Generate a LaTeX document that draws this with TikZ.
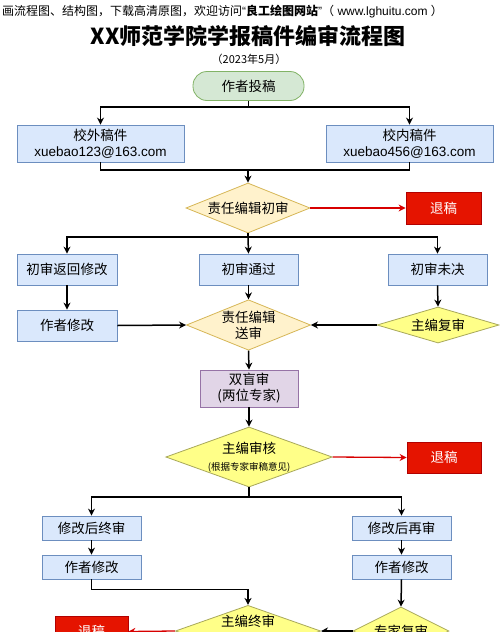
\documentclass[tikz,border=0pt]{standalone}
\usepackage{fontspec}
\setmainfont{Noto Sans CJK SC}
\newfontfamily\lat{Liberation Sans}
\usetikzlibrary{shapes.geometric,arrows.meta}
\definecolor{gfill}{HTML}{D5E8D4}\definecolor{gdraw}{HTML}{82B366}
\definecolor{bfill}{HTML}{DAE8FC}\definecolor{bdraw}{HTML}{6C8EBF}
\definecolor{yfill}{HTML}{FFF2CC}\definecolor{ydraw}{HTML}{D6B656}
\definecolor{ybfill}{HTML}{FFFF88}\definecolor{ybdraw}{HTML}{A8A85A}
\definecolor{pfill}{HTML}{E1D5E7}\definecolor{pdraw}{HTML}{9673A6}
\definecolor{rfill}{HTML}{E51400}\definecolor{rdraw}{HTML}{B20000}
\definecolor{rline}{HTML}{D80000}
\tikzset{
  base/.style={inner sep=0pt, align=center, font=\fontsize{13.5}{16}\selectfont, line width=0.8pt},
  greenbox/.style={base, rectangle, rounded corners=14pt, fill=gfill, draw=gdraw},
  bluebox/.style={base, rectangle, fill=bfill, draw=bdraw},
  purplebox/.style={base, rectangle, fill=pfill, draw=pdraw},
  redbox/.style={base, rectangle, fill=rfill, draw=rdraw, text=white},
  ldia/.style={base, diamond, fill=yfill, draw=ydraw},
  ydia/.style={base, diamond, fill=ybfill, draw=ybdraw},
  arr/.style={line width=1.5pt, -{Stealth[length=7pt,width=7pt]}},
  ln/.style={line width=1.5pt},
  rarr/.style={line width=1.3pt, draw=rline, -{Stealth[length=7pt,width=7pt]}},
}
\begin{document}
\begin{tikzpicture}[x=1pt,y=-1pt]
\useasboundingbox (0,0) rectangle (500,632);
\clip (0,0) rectangle (500,632);
\fill[white] (0,0) rectangle (500,632);

\node[anchor=west, inner sep=0pt, font=\fontsize{12}{14}\selectfont] (hdr) at (2,12)
  {画流程图、结构图，下载高清原图，欢迎访问{\lat “}\textbf{良工绘图网站}{\lat ”}（{\lat\ www.lghuitu.com\ }）};
\node[inner sep=0pt, font=\fontsize{22}{26}\bfseries] (title) at (248,36) {XX师范学院学报稿件编审流程图};
\node[inner sep=0pt, font=\fontsize{11}{13}\selectfont] (date) at (249,59) {（2023年5月）};

\node[greenbox, minimum width=111pt, minimum height=29pt] (tou) at (248.5,86) {作者投稿};
\node[bluebox, minimum width=167pt, minimum height=37pt] (wai) at (100.5,143.5) {校外稿件\\{\lat xuebao123@163.com}};
\node[bluebox, minimum width=167pt, minimum height=37pt] (nei) at (409.5,143.5) {校内稿件\\{\lat xuebao456@163.com}};
\node[ldia, minimum width=124pt, minimum height=50pt, shape aspect=2.48] (chu) at (248,208) {责任编辑初审};
\node[redbox, minimum width=75pt, minimum height=32pt] (tuiA) at (443.5,208) {退稿};

\node[bluebox, minimum width=100pt, minimum height=31pt] (fh) at (67,269.5) {初审返回修改};
\node[bluebox, minimum width=99pt, minimum height=31pt] (tg) at (248.5,269.5) {初审通过};
\node[bluebox, minimum width=99pt, minimum height=31pt] (wj) at (437.5,269.5) {初审未决};
\node[bluebox, minimum width=100pt, minimum height=31pt] (xg1) at (67,325.5) {作者修改};
\node[ldia, minimum width=123pt, minimum height=50pt, shape aspect=2.46] (ss) at (248.5,325) {责任编辑\\送审};
\node[ydia, minimum width=122pt, minimum height=36pt, shape aspect=3.4] (fs) at (438,325) {主编复审};

\node[purplebox, minimum width=98pt, minimum height=37pt] (smt) at (249,388.5) {双盲审\\(两位专家)};
\node[ydia, minimum width=166pt, minimum height=60pt, shape aspect=2.77] (sh) at (249,457)
  {主编审核\\[1pt]{\fontsize{9.5}{11}\selectfont(根据专家审稿意见)}};
\node[redbox, minimum width=74pt, minimum height=31pt] (tuiB) at (444,457.5) {退稿};

\node[bluebox, minimum width=99pt, minimum height=24pt] (zs) at (91.5,528) {修改后终审};
\node[bluebox, minimum width=99pt, minimum height=24pt] (zx) at (401.5,528) {修改后再审};
\node[bluebox, minimum width=99pt, minimum height=24pt] (xg2) at (91.5,567) {作者修改};
\node[bluebox, minimum width=99pt, minimum height=24pt] (xg3) at (401.5,567) {作者修改};

\node[ydia, minimum width=130pt, minimum height=46pt, shape aspect=2.83] (zz) at (248,631) {主编终审\\\strut};
\node[ydia, minimum width=96pt, minimum height=48pt, shape aspect=2] (zj) at (401,631) {专家复审};
\node[redbox, minimum width=73pt, minimum height=31pt] (tuiC) at (91.5,631.5) {退稿};

% connectors
\coordinate (j1) at (248.5,107);
\draw[ln] (tou.south) -- (j1);
\draw[arr] (j1) -| (wai.north);
\draw[arr] (j1) -| (nei.north);
\coordinate (j2) at (248,170);
\draw[ln] (wai.south) |- (j2);
\draw[ln] (nei.south) |- (j2);
\draw[arr] (j2) -- (chu.north);
\draw[rarr] (chu.east) -- (tuiA.west);

\coordinate (j3) at (248,237);
\draw[ln] (chu.south) -- (j3);
\draw[arr] (j3) -| (fh.north);
\draw[arr] (j3) -| (wj.north);
\draw[arr] (j3) -- (tg.north);
\draw[arr] (fh.south) -- (xg1.north);
\draw[arr] (tg.south) -- (ss.north);
\draw[arr] (wj.south) -- (fs.north);
\draw[arr] (xg1.east) -- (ss.west);
\draw[arr] (fs.west) -- (ss.east);

\draw[arr] (ss.south) -- (smt.north);
\draw[arr] (smt.south) -- (sh.north);
\draw[rarr] (sh.east) -- (tuiB.west);

\coordinate (j4) at (249,497);
\draw[ln] (sh.south) -- (j4);
\draw[arr] (j4) -| (zs.north);
\draw[arr] (j4) -| (zx.north);
\draw[arr] (zs.south) -- (xg2.north);
\draw[arr] (zx.south) -- (xg3.north);
\draw[arr] (xg2.south) -- ++(0,10) -| (zz.north);
\draw[arr] (xg3.south) -- (zj.north);
\draw[arr] (zj.west) -- (zz.east);
\draw[rarr] (zz.west) -- (tuiC.east);
\end{tikzpicture}
\end{document}
